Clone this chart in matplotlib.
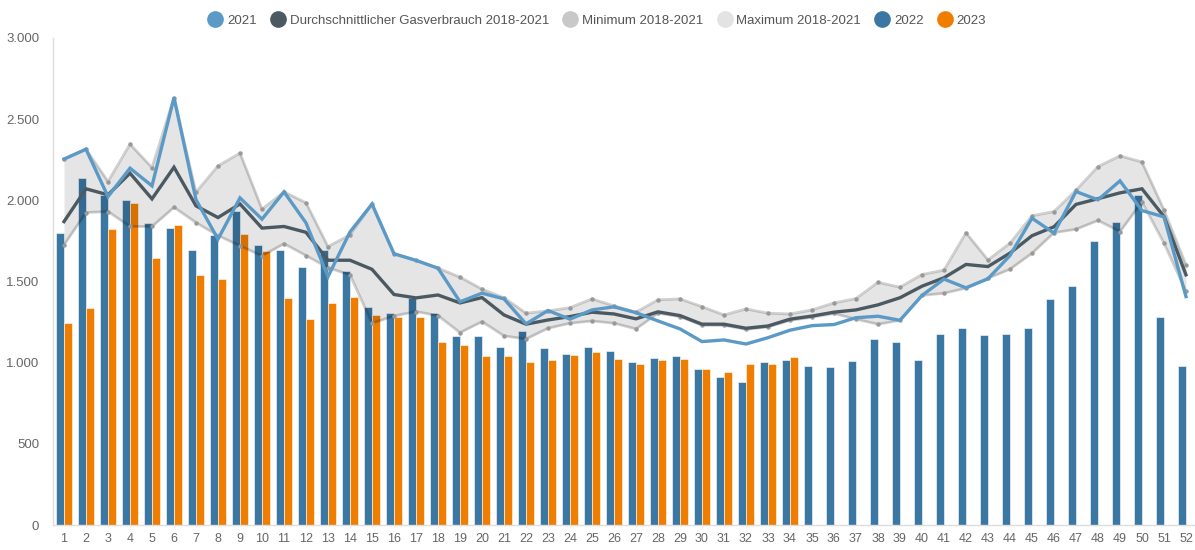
import matplotlib
matplotlib.use("Agg")
import matplotlib.pyplot as plt
from matplotlib.lines import Line2D
from matplotlib.ticker import FuncFormatter
import numpy as np

plt.rcParams['font.family'] = ['Liberation Sans', 'DejaVu Sans']

weeks = list(range(1, 53))

y2022 = [1800, 2140, 2030, 2000, 1860, 1830, 1695, 1785, 1937, 1726,
         1695, 1588, 1695, 1563, 1342, 1305, 1397, 1305, 1167, 1163,
         1095, 1196, 1089, 1056, 1095, 1074, 1003, 1029, 1044, 963,
         914, 883, 1003, 1019, 980, 974, 1011, 1146, 1126, 1015,
         1177, 1216, 1169, 1175, 1214, 1393, 1471, 1750, 1869, 2030,
         1280, 978]

y2023 = [1243, 1339, 1822, 1984, 1644, 1849, 1537, 1514, 1791, 1689,
         1401, 1268, 1370, 1403, 1294, 1284, 1284, 1128, 1109, 1044,
         1044, 1003, 1015, 1050, 1064, 1023, 992, 1015, 1023, 963,
         941, 990, 994, 1037]

y2021 = [2254, 2315, 2023, 2198, 2089, 2633, 2004, 1761, 2015, 1884,
         2052, 1861, 1530, 1805, 1977, 1671, 1630, 1582, 1375, 1428,
         1393, 1239, 1321, 1268, 1325, 1344, 1308, 1257, 1208, 1130,
         1140, 1115, 1154, 1200, 1228, 1235, 1277, 1286, 1261, 1414,
         1515, 1461, 1517, 1660, 1890, 1798, 2054, 2003, 2120, 1937,
         1898, 1407]

avg = [1869, 2071, 2034, 2167, 2009, 2204, 1966, 1894, 1978, 1829,
       1839, 1803, 1631, 1631, 1575, 1420, 1399, 1417, 1368, 1401,
       1294, 1237, 1263, 1284, 1311, 1300, 1270, 1313, 1290, 1237,
       1237, 1212, 1226, 1268, 1287, 1311, 1325, 1356, 1400, 1471,
       1523, 1605, 1592, 1675, 1782, 1837, 1975, 2010, 2046, 2071,
       1900, 1541]

vmax = [2254, 2315, 2116, 2346, 2202, 2633, 2050, 2212, 2291, 1946,
        2052, 1985, 1715, 1787, 1977, 1671, 1630, 1582, 1527, 1453,
        1400, 1305, 1319, 1339, 1393, 1350, 1311, 1387, 1393, 1345,
        1294, 1331, 1305, 1300, 1325, 1368, 1395, 1495, 1465, 1543,
        1570, 1800, 1633, 1736, 1905, 1931, 2062, 2208, 2274, 2236,
        1941, 1602]

vmin = [1726, 1925, 1931, 1839, 1839, 1957, 1863, 1783, 1720, 1658,
        1733, 1660, 1585, 1541, 1243, 1288, 1315, 1290, 1185, 1253,
        1165, 1146, 1212, 1243, 1257, 1243, 1208, 1305, 1283, 1230,
        1230, 1205, 1220, 1260, 1280, 1303, 1268, 1237, 1261, 1414,
        1428, 1459, 1520, 1576, 1674, 1801, 1822, 1876, 1808, 1990,
        1736, 1440]

c2021 = '#5B9AC6'
cavg = '#4B5A62'
c2022 = '#3A77A3'
c2023 = '#EF7D00'

fig = plt.figure(figsize=(11.95, 5.5), dpi=100)
ax = fig.add_axes([53/1195, 25/550, 1142/1195, 487/550])

x = np.array(weeks)
bw = 0.37
ax.bar(x - 0.195, y2022, width=bw, color=c2022, edgecolor='white', linewidth=0.4, zorder=2)
x23 = np.array(weeks[:len(y2023)])
ax.bar(x23 + 0.19, y2023, width=bw, color=c2023, edgecolor='white', linewidth=0.4, zorder=2)

ax.fill_between(x, vmin, vmax, color='black', alpha=0.10, linewidth=0, zorder=3)
ax.plot(x, vmax, color='black', alpha=0.18, lw=2.0, zorder=4)
ax.plot(x, vmin, color='black', alpha=0.18, lw=2.0, zorder=4)
ax.plot(x, vmax, 'o', color='#999999', ms=2.2, zorder=4)
ax.plot(x, vmin, 'o', color='#999999', ms=2.2, zorder=4)
ax.plot(x, avg, color=cavg, lw=2.4, zorder=5, solid_joinstyle='miter')
ax.plot(x, y2021, color=c2021, lw=2.4, zorder=6, solid_joinstyle='miter')

ax.set_xlim(0.5, 52.41)
ax.set_ylim(0, 3000)
ax.set_xticks(weeks)
ax.set_xticklabels([str(w) for w in weeks])
ax.set_yticks([0, 500, 1000, 1500, 2000, 2500, 3000])
ax.yaxis.set_major_formatter(FuncFormatter(lambda v, p: f"{int(v):,}".replace(',', '.')))
ax.tick_params(axis='both', length=0, labelsize=9.5, labelcolor='#666666')
ax.tick_params(axis='x', pad=6, labelsize=9)
ax.tick_params(axis='y', pad=10)
for s in ['top', 'right']:
    ax.spines[s].set_visible(False)
ax.spines['left'].set_color('#dddddd')
ax.spines['bottom'].set_color('#dddddd')
ax.spines['left'].set_linewidth(1)
ax.spines['bottom'].set_linewidth(1)

labels = ['2021', 'Durchschnittlicher Gasverbrauch 2018-2021', 'Minimum 2018-2021',
          'Maximum 2018-2021', '2022', '2023']
colors = [c2021, cavg, '#c8c8c8', '#e3e3e3', c2022, c2023]
handles = [Line2D([], [], marker='o', linestyle='none', markersize=11,
                  markerfacecolor=c, markeredgecolor=c) for c in colors]
fig.legend(handles, labels, loc='center', bbox_to_anchor=(0.5, 1 - 21/550), ncol=6,
           frameon=False, fontsize=9.5, labelcolor='#555555', handletextpad=0.4,
           columnspacing=1.1, handlelength=1.0)

fig.savefig('out.png', dpi=100)
